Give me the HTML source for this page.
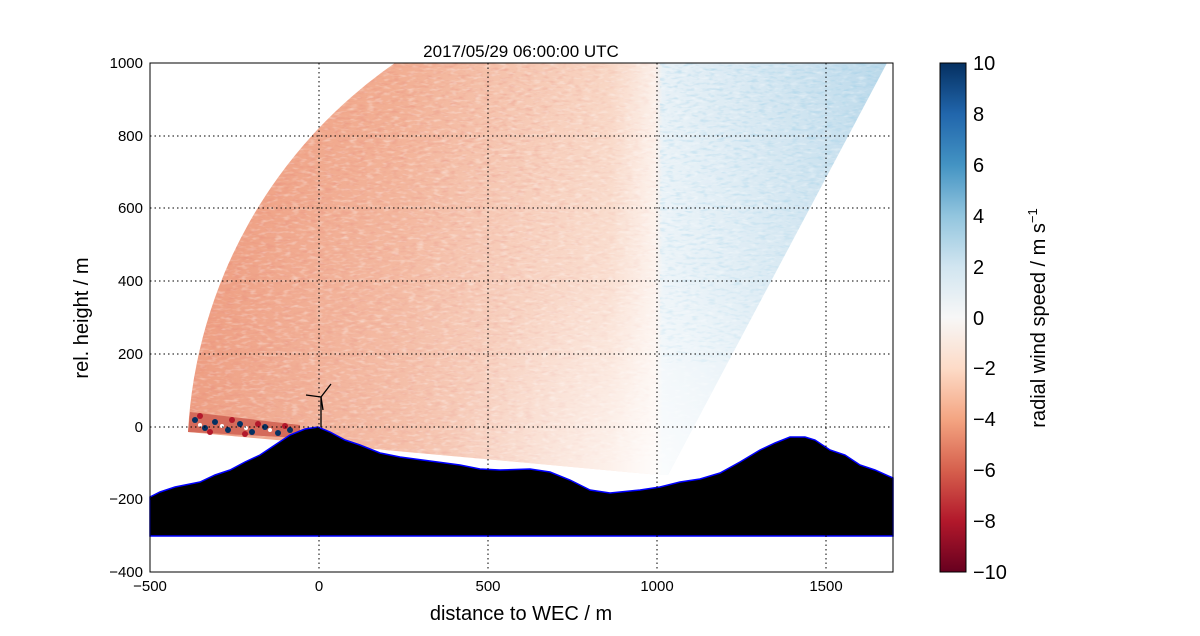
<!DOCTYPE html>
<html><head><meta charset="utf-8"><style>body{margin:0;background:#fff}svg{display:block}text{font-family:"Liberation Sans",sans-serif}</style></head><body>
<svg width="1200" height="636" viewBox="0 0 1200 636">
<defs>
<linearGradient id="fan" x1="190" y1="0" x2="890" y2="0" gradientUnits="userSpaceOnUse">
<stop offset="0" stop-color="#ee9e82"/><stop offset="0.3" stop-color="#f2ae92"/><stop offset="0.6" stop-color="#f8d3c0"/><stop offset="0.665" stop-color="#fcefe8"/><stop offset="0.675" stop-color="#e6f0f6"/><stop offset="1" stop-color="#b9d8ea"/>
</linearGradient>
<radialGradient id="glow" cx="660" cy="475" r="480" gradientUnits="userSpaceOnUse">
<stop offset="0" stop-color="#fff" stop-opacity="0.8"/><stop offset="0.45" stop-color="#fff" stop-opacity="0.25"/><stop offset="1" stop-color="#fff" stop-opacity="0"/>
</radialGradient>
<linearGradient id="fade" x1="150" y1="0" x2="660" y2="0" gradientUnits="userSpaceOnUse"><stop offset="0" stop-color="#fff"/><stop offset="0.7" stop-color="#fff"/><stop offset="1" stop-color="#fff" stop-opacity="0.2"/></linearGradient>
<mask id="fm"><rect x="150" y="63" width="510" height="420" fill="url(#fade)"/></mask>
<linearGradient id="cb" x1="0" y1="0" x2="0" y2="1">
<stop offset="0" stop-color="#053061"/><stop offset="0.1" stop-color="#2166ac"/><stop offset="0.2" stop-color="#4393c3"/><stop offset="0.3" stop-color="#92c5de"/><stop offset="0.4" stop-color="#d1e5f0"/><stop offset="0.5" stop-color="#f7f7f7"/><stop offset="0.6" stop-color="#fddbc7"/><stop offset="0.7" stop-color="#f4a582"/><stop offset="0.8" stop-color="#d6604d"/><stop offset="0.9" stop-color="#b2182b"/><stop offset="1" stop-color="#67001f"/>
</linearGradient>
<filter id="noise" x="0" y="0" width="1" height="1"><feTurbulence type="fractalNoise" baseFrequency="0.12 0.35" numOctaves="2" seed="3"/><feColorMatrix values="0 0 0 0 0.8  0 0 0 0 0.25  0 0 0 0 0.2  2.2 0 0 0 -1.1"/></filter>
<filter id="noise2" x="0" y="0" width="1" height="1"><feTurbulence type="fractalNoise" baseFrequency="0.12 0.35" numOctaves="2" seed="9"/><feColorMatrix values="0 0 0 0 1  0 0 0 0 1  0 0 0 0 1  2.2 0 0 0 -1.1"/></filter>
<filter id="noise3" x="0" y="0" width="1" height="1"><feTurbulence type="fractalNoise" baseFrequency="0.12 0.35" numOctaves="2" seed="5"/><feColorMatrix values="0 0 0 0 0.26  0 0 0 0 0.58  0 0 0 0 0.78  2.2 0 0 0 -1.1"/></filter>
<clipPath id="fc"><path d="M660,475 L188,432 A480,480 0 0 1 395,63 L887,63 L668,475 Z"/></clipPath>
</defs>
<rect x="150" y="63" width="743" height="509" fill="#fff"/>
<g clip-path="url(#fc)">
<rect x="150" y="63" width="743" height="420" fill="url(#fan)"/>
<g mask="url(#fm)"><rect x="150" y="63" width="510" height="400" filter="url(#noise)" opacity="0.5"/></g>
<rect x="150" y="63" width="743" height="400" filter="url(#noise2)" opacity="0.45"/>
<rect x="660" y="63" width="233" height="300" filter="url(#noise3)" opacity="0.5"/>
<rect x="150" y="63" width="743" height="420" fill="url(#glow)"/>
</g>
<polygon points="190,412 300,425 300,438 188,432" fill="#d46a5a"/>
<g fill="#b2182b"><circle cx="200" cy="416" r="3"/><circle cx="232" cy="420" r="3"/><circle cx="258" cy="424" r="3"/><circle cx="285" cy="426" r="3"/><circle cx="210" cy="432" r="3"/><circle cx="245" cy="434" r="3"/></g>
<g fill="#053061"><circle cx="195" cy="420" r="3"/><circle cx="205" cy="428" r="3"/><circle cx="215" cy="422" r="3"/><circle cx="228" cy="430" r="3"/><circle cx="240" cy="424" r="3"/><circle cx="252" cy="432" r="3"/><circle cx="265" cy="427" r="3"/><circle cx="278" cy="433" r="3"/><circle cx="290" cy="430" r="3"/></g>
<g fill="#fff"><circle cx="200" cy="425" r="2"/><circle cx="222" cy="426" r="2"/><circle cx="246" cy="428" r="2"/><circle cx="270" cy="430" r="2"/></g>
<polygon fill="#000" stroke="#0000ff" stroke-width="1.5" points="150,497 160,492 175,487 185,485 200,482 215,475 230,470 245,462 260,455 275,445 290,435 305,429 318,427 330,432 345,440 360,445 380,453 400,457 430,461 460,465 480,469 500,470 530,469 550,472 570,480 590,490 610,493 640,490 660,487 680,482 700,479 720,473 740,462 760,450 775,443 790,437 805,437 815,440 830,450 845,455 860,465 875,470 893,478 893,536 150,536"/>
<g stroke="#000" stroke-width="1.3"><line x1="321" y1="427" x2="321" y2="397"/><line x1="321" y1="397" x2="306" y2="395"/><line x1="321" y1="397" x2="331" y2="384"/><line x1="321" y1="397" x2="323" y2="410"/></g>
<g stroke="#000" stroke-width="1" stroke-dasharray="1.5,3"><line x1="319" y1="63" x2="319" y2="572"/><line x1="488" y1="63" x2="488" y2="572"/><line x1="657" y1="63" x2="657" y2="572"/><line x1="826" y1="63" x2="826" y2="572"/>
<line x1="150" y1="136" x2="893" y2="136"/><line x1="150" y1="208" x2="893" y2="208"/><line x1="150" y1="281" x2="893" y2="281"/><line x1="150" y1="354" x2="893" y2="354"/><line x1="150" y1="427" x2="893" y2="427"/><line x1="150" y1="499" x2="893" y2="499"/></g>
<rect x="150" y="63" width="743" height="509" fill="none" stroke="#000" stroke-width="1"/>
<g font-size="15" text-anchor="end"><text x="143" y="68">1000</text><text x="143" y="141">800</text><text x="143" y="213">600</text><text x="143" y="286">400</text><text x="143" y="359">200</text><text x="143" y="432">0</text><text x="143" y="504">−200</text><text x="143" y="577">−400</text></g>
<g font-size="15" text-anchor="middle"><text x="150" y="591">−500</text><text x="319" y="591">0</text><text x="488" y="591">500</text><text x="657" y="591">1000</text><text x="826" y="591">1500</text></g>
<text x="521" y="57" font-size="17" text-anchor="middle">2017/05/29 06:00:00 UTC</text>
<text x="521" y="620" font-size="20" text-anchor="middle">distance to WEC / m</text>
<text transform="translate(88,318) rotate(-90)" font-size="20" text-anchor="middle">rel. height / m</text>
<rect x="940" y="63" width="26" height="509" fill="url(#cb)" stroke="#000"/>
<g font-size="20"><text x="973" y="70">10</text><text x="973" y="121">8</text><text x="973" y="172">6</text><text x="973" y="223">4</text><text x="973" y="274">2</text><text x="973" y="325">0</text><text x="973" y="375">−2</text><text x="973" y="426">−4</text><text x="973" y="477">−6</text><text x="973" y="528">−8</text><text x="973" y="579">−10</text></g>
<text transform="translate(1045,318) rotate(-90)" font-size="20" text-anchor="middle">radial wind speed / m s<tspan font-size="13" dy="-8">−1</tspan></text>
</svg>
</body></html>
